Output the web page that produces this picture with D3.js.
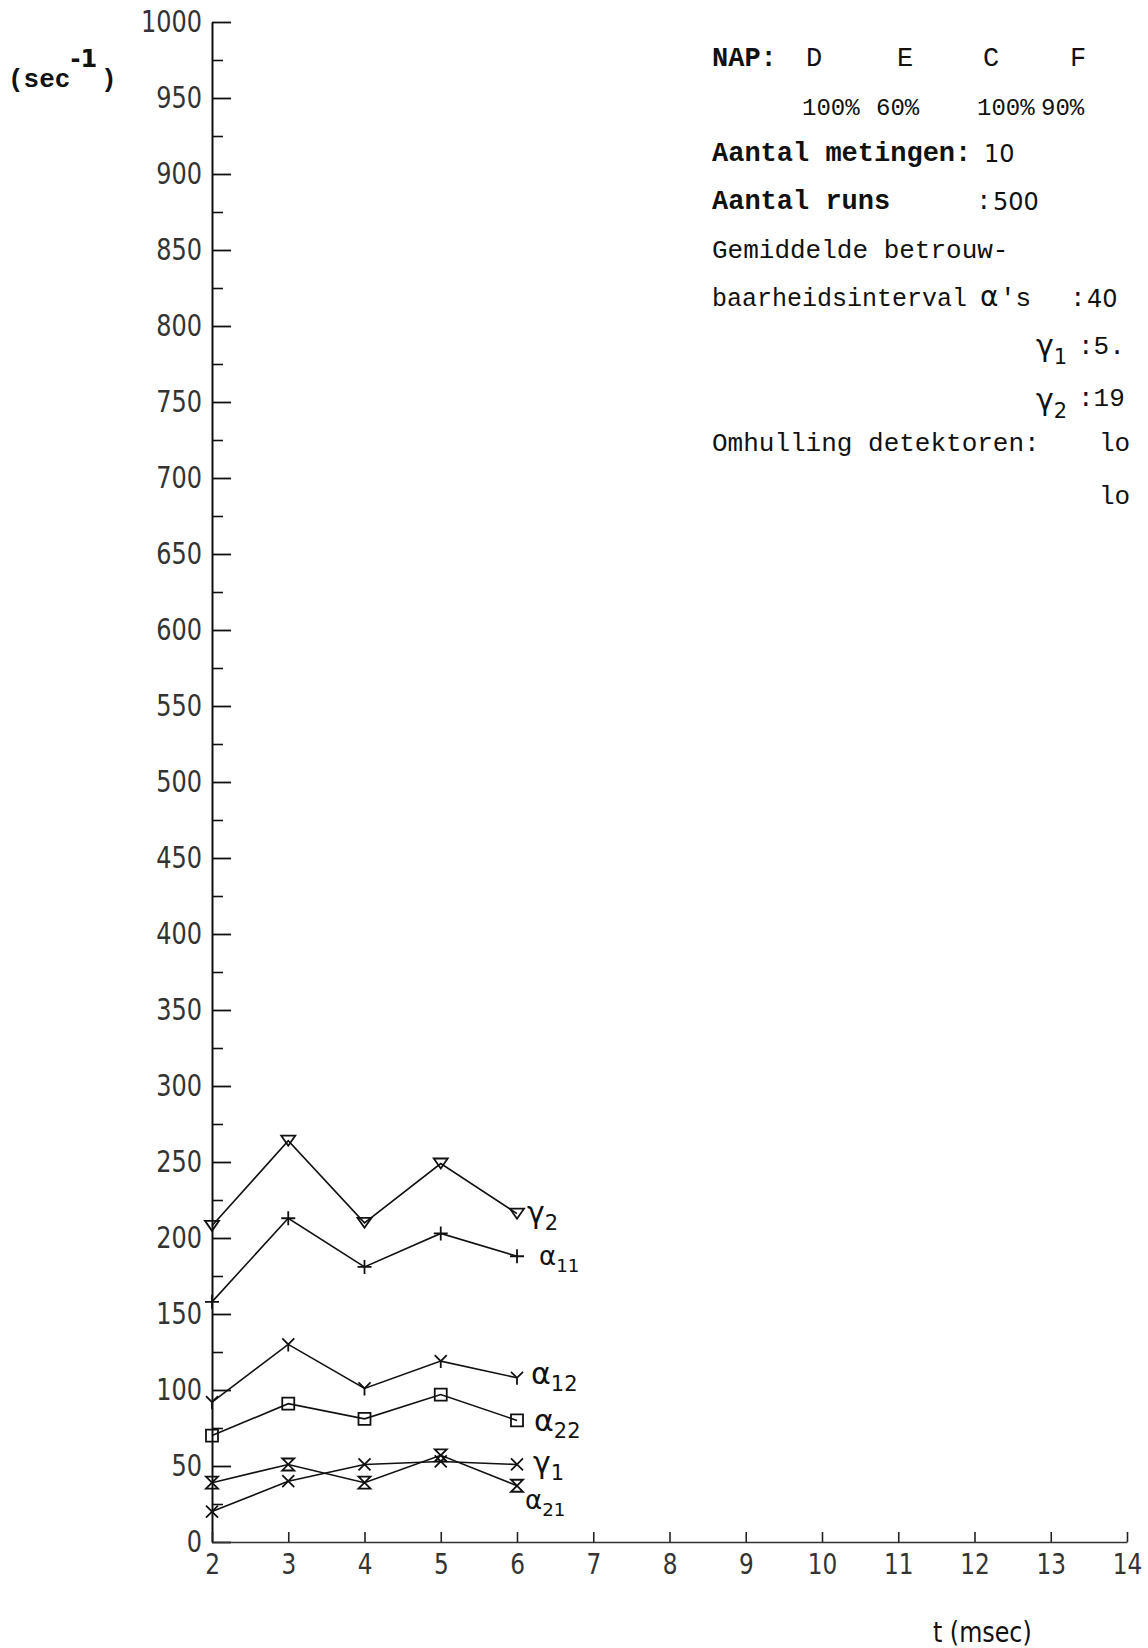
<!DOCTYPE html>
<html>
<head>
<meta charset="utf-8">
<script src="https://cdn.jsdelivr.net/npm/d3@7"></script>
<style>
  body { margin: 0; background: #fff; }
  svg { display: block; }
  .tw { font-family: "Liberation Mono", "DejaVu Sans Mono", monospace; font-size: 26px; fill: #111; }
  .hand { font-family: "DejaVu Sans", sans-serif; fill: #111; }
</style>
</head>
<body>
<svg id="chart"></svg>
<script>
// x values (t in msec) and measured rates (sec^-1)
const tValues = [2, 3, 4, 5, 6];
const gamma2  = [208, 264, 210, 249, 216];
const alpha11 = [158, 213, 181, 203, 188];
const alpha12 = [92, 130, 101, 119, 108];
const alpha22 = [70, 91, 81, 97, 80];
const gamma1  = [20, 40, 51, 53, 51];
const alpha21 = [39, 51, 39, 57, 37];

const xTickValues = [2, 3, 4, 5, 6, 7, 8, 9, 10, 11, 12, 13, 14];
const yTickValues = [0, 50, 100, 150, 200, 250, 300, 350, 400, 450, 500, 550, 600, 650, 700, 750, 800, 850, 900, 950, 1000];
const yMinorTicks = [25, 75, 125, 175, 225, 275, 325, 375, 425, 475, 525, 575, 625, 675, 725, 775, 825, 875, 925, 975];

const napSites = ["D", "E", "C", "F"];
const napPercent = ["100%", "60%", "100%", "90%"];

const W = 1148, H = 1648;
const svg = d3.select("#chart").attr("width", W).attr("height", H);

const x = d3.scaleLinear().domain([2, 14]).range([212, 1127]);
const y = d3.scaleLinear().domain([0, 1000]).range([1542, 22]);

const SX = 0.8; // plotter digits are narrow

// y axis: ticks point inward (right), labels left
const yAxis = svg.append("g")
  .attr("transform", `translate(${x(2)},0)`)
  .call(d3.axisLeft(y).tickValues(yTickValues).tickFormat(d3.format("d"))
    .tickSize(-19).tickSizeOuter(0).tickPadding(10));
yAxis.select(".domain").attr("stroke", "#111").attr("stroke-width", 2);
yAxis.selectAll(".tick line").attr("stroke", "#111").attr("stroke-width", 1.8);
yAxis.selectAll(".tick text")
  .attr("x", -10 / SX).attr("transform", `scale(${SX},1)`)
  .attr("font-size", 30).attr("font-family", "DejaVu Sans").attr("fill", "#333");

const yMinor = svg.append("g")
  .attr("transform", `translate(${x(2)},0)`)
  .call(d3.axisLeft(y).tickValues(yMinorTicks).tickSize(-11).tickSizeOuter(0).tickFormat(""));
yMinor.select(".domain").remove();
yMinor.selectAll(".tick line").attr("stroke", "#111").attr("stroke-width", 1.6);

// x axis: ticks point up, labels below
const xAxis = svg.append("g")
  .attr("transform", `translate(0,${y(0)})`)
  .call(d3.axisBottom(x).tickValues(xTickValues).tickSize(-10).tickSizeOuter(0).tickPadding(11));
xAxis.select(".domain").attr("stroke", "#333").attr("stroke-width", 1.6);
xAxis.selectAll(".tick line").attr("stroke", "#222").attr("stroke-width", 1.6);
xAxis.selectAll(".tick text")
  .attr("transform", `scale(${SX},1)`)
  .attr("font-size", 29).attr("font-family", "DejaVu Sans").attr("fill", "#333");

// axis titles
const yTitle = svg.append("text").attr("class", "tw").attr("x", 8).attr("y", 87)
  .attr("font-weight", "bold").attr("font-size", 28);
yTitle.append("tspan").text("(sec");
yTitle.append("tspan").attr("dy", -20).attr("font-family", "DejaVu Sans").attr("font-size", 24).text("-1");
yTitle.append("tspan").attr("dx", 4).attr("dy", 20).text(")");

svg.append("text").attr("class", "hand")
  .attr("x", 933 / 0.85).attr("y", 1642).attr("transform", "scale(0.85,1)")
  .attr("font-size", 28).attr("fill", "#222").text("t (msec)");

// marker shapes (plotter symbols)
const markers = {
  triDown:   "M-7,-5H7L0,5Z",
  plus:      "M-7,0H7M0,-7V7",
  yMark:     "M-6,-6L0,0L6,-6M0,0V7",
  square:    "M-6,-6H6V6H-6Z",
  cross:     "M-6,-6L6,6M6,-6L-6,6",
  hourglass: "M-6,-6H6L-6,6H6Z"
};

const series = [
  { name: "γ", sub: "2",  values: gamma2,  marker: "triDown",   dx: 10, dy: 0,  fs: 30 },
  { name: "α", sub: "11", values: alpha11, marker: "plus",      dx: 22, dy: 0,  fs: 26 },
  { name: "α", sub: "12", values: alpha12, marker: "yMark",     dx: 14, dy: -3, fs: 30 },
  { name: "α", sub: "22", values: alpha22, marker: "square",    dx: 17, dy: 2,  fs: 30 },
  { name: "γ", sub: "1",  values: gamma1,  marker: "cross",     dx: 16, dy: 0,  fs: 30 },
  { name: "α", sub: "21", values: alpha21, marker: "hourglass", dx: 8,  dy: 14, fs: 26 }
];

const line = d3.line().x(d => x(d[0])).y(d => y(d[1]));

series.forEach(s => {
  const pts = tValues.map((t, i) => [t, s.values[i]]);
  svg.append("path").datum(pts)
    .attr("d", line).attr("fill", "none")
    .attr("stroke", "#111").attr("stroke-width", 1.6);
  svg.selectAll(null).data(pts).enter().append("path")
    .attr("transform", d => `translate(${x(d[0])},${y(d[1])})`)
    .attr("d", markers[s.marker])
    .attr("fill", "none").attr("stroke", "#111").attr("stroke-width", 1.8);
  const last = pts[pts.length - 1];
  const lbl = svg.append("text").attr("class", "hand")
    .attr("x", x(last[0]) + s.dx).attr("y", y(last[1]) + s.dy + 9)
    .attr("font-size", s.fs);
  lbl.append("tspan").text(s.name);
  lbl.append("tspan").attr("dy", 7).attr("font-size", s.fs * 0.7).text(s.sub);
});

// typed notes, top right
const notes = svg.append("g").attr("class", "tw");
notes.append("text").attr("x", 712).attr("y", 66).attr("font-weight", "bold").attr("font-size", 27).text("NAP:");
const napX = [806, 897, 983, 1070];
napSites.forEach((s, i) => notes.append("text").attr("x", napX[i]).attr("y", 66).attr("font-size", 27).text(s));
const pctX = [802, 876, 977, 1041];
napPercent.forEach((s, i) => notes.append("text").attr("x", pctX[i]).attr("y", 115)
  .attr("font-size", 24).text(s));

notes.append("text").attr("x", 712).attr("y", 161).attr("font-weight", "bold").attr("font-size", 27).text("Aantal metingen:");
notes.append("text").attr("x", 984).attr("y", 162).attr("font-family", "DejaVu Sans").attr("font-size", 24).text("10");
notes.append("text").attr("x", 712).attr("y", 209).attr("font-weight", "bold").attr("font-size", 27).text("Aantal runs");
notes.append("text").attr("x", 976).attr("y", 209).text(":");
notes.append("text").attr("x", 993).attr("y", 210).attr("font-family", "DejaVu Sans").attr("font-size", 24).text("500");
notes.append("text").attr("x", 712).attr("y", 258).text("Gemiddelde betrouw-");
notes.append("text").attr("x", 712).attr("y", 306).attr("font-size", 25).text("baarheidsinterval");
notes.append("text").attr("x", 980).attr("y", 306).attr("font-family", "DejaVu Sans").attr("font-size", 28).text("α");
notes.append("text").attr("x", 1000).attr("y", 306).text("'s");
notes.append("text").attr("x", 1070).attr("y", 306).text(":");
notes.append("text").attr("x", 1087).attr("y", 307).attr("font-family", "DejaVu Sans").attr("font-size", 24).text("40");

const g1 = notes.append("text").attr("x", 1036).attr("y", 356).attr("font-family", "DejaVu Sans").attr("font-size", 30);
g1.append("tspan").text("γ");
g1.append("tspan").attr("dy", 8).attr("font-size", 21).text("1");
notes.append("text").attr("x", 1078).attr("y", 354).text(":5.");
const g2 = notes.append("text").attr("x", 1036).attr("y", 410).attr("font-family", "DejaVu Sans").attr("font-size", 30);
g2.append("tspan").text("γ");
g2.append("tspan").attr("dy", 8).attr("font-size", 21).text("2");
notes.append("text").attr("x", 1078).attr("y", 406).text(":19");

notes.append("text").attr("x", 712).attr("y", 451).text("Omhulling detektoren:");
notes.append("text").attr("x", 1099).attr("y", 451).text("lo");
notes.append("text").attr("x", 1099).attr("y", 504).text("lo");
</script>
</body>
</html>
